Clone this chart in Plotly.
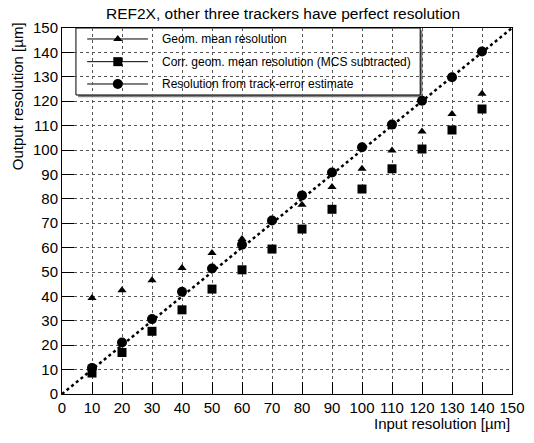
import plotly.graph_objects as go

# ---- data ----
input_res = [10, 20, 30, 40, 50, 60, 70, 80, 90, 100, 110, 120, 130, 140]
geom_mean = [39.3, 42.5, 46.6, 51.6, 57.8, 63.5, 71.0, 77.6, 84.8, 92.3, 99.8, 107.6, 114.8, 123.1]
corr_geom_mean = [8.6, 17.0, 25.7, 34.5, 43.0, 50.9, 59.4, 67.6, 75.7, 84.0, 92.3, 100.4, 108.2, 116.8]
track_error = [10.7, 21.1, 30.7, 41.9, 51.4, 61.2, 71.1, 81.4, 90.8, 101.1, 110.4, 120.2, 129.8, 140.4]
diag_x = [0, 150]
diag_y = [0, 150]
tick_vals = [0, 10, 20, 30, 40, 50, 60, 70, 80, 90, 100, 110, 120, 130, 140, 150]
legend_labels = ["Geom. mean resolution",
                 "Corr. geom. mean resolution (MCS subtracted)",
                 "Resolution from track-error estimate"]
legend_symbols = ["triangle-up", "square", "circle"]
legend_sizes = [8, 9, 10]

FONT = "Liberation Sans, Arial, Helvetica, sans-serif"

fig = go.Figure()

fig.add_trace(go.Scatter(x=diag_x, y=diag_y, mode="lines",
                         line=dict(color="black", width=2.5, dash="dot"),
                         showlegend=False, hoverinfo="skip"))
fig.add_trace(go.Scatter(x=input_res, y=geom_mean, mode="markers",
                         marker=dict(symbol="triangle-up", size=8, color="black"),
                         showlegend=False))
fig.add_trace(go.Scatter(x=input_res, y=corr_geom_mean, mode="markers",
                         marker=dict(symbol="square", size=9, color="black"),
                         showlegend=False))
fig.add_trace(go.Scatter(x=input_res, y=track_error, mode="markers",
                         marker=dict(symbol="circle", size=10, color="black"),
                         showlegend=False))

# ---- custom ROOT-like legend (plot-area fraction coordinates) ----
lx0, lx1, ly0, ly1 = 0.031, 0.796, 0.817, 1.0
line_x0, line_x1, mark_x, text_x = 0.056, 0.191, 0.124, 0.218
entry_y = [0.970, 0.908, 0.847]

shapes = []
shapes.append(dict(type="rect", xref="paper", yref="paper",
                   x0=lx0 + 0.005, x1=lx1 + 0.005, y0=ly0 - 0.006, y1=ly1 - 0.006,
                   fillcolor="#808080", line=dict(width=0), layer="between"))
shapes.append(dict(type="rect", xref="paper", yref="paper",
                   x0=lx0, x1=lx1, y0=ly0, y1=ly1,
                   fillcolor="white", line=dict(color="black", width=1), layer="between"))
for yy in entry_y:
    shapes.append(dict(type="line", xref="paper", yref="paper",
                       x0=line_x0, x1=line_x1, y0=yy, y1=yy,
                       line=dict(color="black", width=1), layer="between"))

for sym, sz, yy in zip(legend_symbols, legend_sizes, entry_y):
    fig.add_trace(go.Scatter(x=[mark_x], y=[yy], xaxis="x2", yaxis="y2", mode="markers",
                             marker=dict(symbol=sym, size=sz, color="black"),
                             showlegend=False, hoverinfo="skip"))

annotations = []
for lab, yy in zip(legend_labels, entry_y):
    annotations.append(dict(x=text_x, y=yy, xref="paper", yref="paper", text=lab,
                            showarrow=False, xanchor="left", yanchor="middle",
                            font=dict(family=FONT, size=12, color="black")))

annotations.append(dict(x=1.0, y=-0.052, xref="paper", yref="paper",
                        text="Input resolution [µm]", showarrow=False,
                        xanchor="right", yanchor="top",
                        font=dict(family=FONT, size=15, color="black")))
annotations.append(dict(x=-0.122, y=1.02, xref="paper", yref="paper",
                        text="Output resolution [µm]", showarrow=False,
                        textangle=-90, xanchor="left", yanchor="top",
                        font=dict(family=FONT, size=15, color="black")))
annotations.append(dict(x=0.49, y=1.0, xref="paper", yref="paper",
                        text="REF2X, other three trackers have perfect resolution",
                        showarrow=False, xanchor="center", yanchor="bottom", yshift=4,
                        font=dict(family=FONT, size=15.5, color="black")))

axis_common = dict(
    range=[0, 150], tickmode="array", tickvals=tick_vals,
    ticks="inside", ticklen=12, tickwidth=1, tickcolor="black",
    showline=True, linecolor="black", linewidth=1, mirror=True,
    showgrid=True, gridcolor="#555555", griddash="dot", gridwidth=1,
    zeroline=False, tickfont=dict(family=FONT, size=15, color="black"),
    automargin=False,
)

fig.update_layout(
    width=534, height=443,
    margin=dict(l=62, r=22, t=28, b=49),
    paper_bgcolor="white", plot_bgcolor="white",
    xaxis=dict(**axis_common, domain=[0, 1]),
    yaxis=dict(**axis_common, domain=[0, 1]),
    xaxis2=dict(range=[0, 1], overlaying="x", visible=False, domain=[0, 1]),
    yaxis2=dict(range=[0, 1], overlaying="y", visible=False, domain=[0, 1]),
    shapes=shapes, annotations=annotations,
    showlegend=False,
)

fig.write_html("out.html",
               config={"displayModeBar": False, "staticPlot": True},
               post_script="document.body.style.margin='0';document.body.style.overflow='hidden';")
